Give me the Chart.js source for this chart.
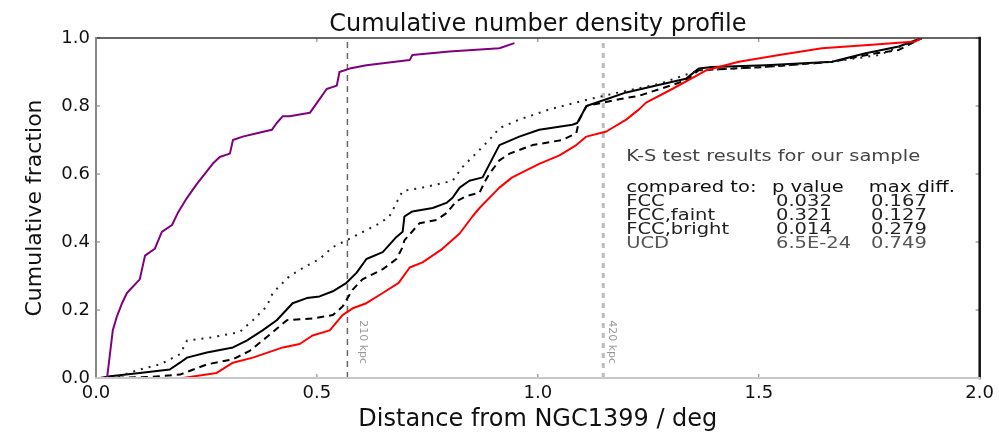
<!DOCTYPE html>
<html lang="en">
<head>
<meta charset="UTF-8">
<title>Cumulative number density profile</title>
<script src="https://cdn.jsdelivr.net/npm/chart.js"></script>
<style>
  html, body { margin: 0; padding: 0; background: #fff; }
  #wrap { width: 999px; height: 432px; }
</style>
</head>
<body>
<div id="wrap"><canvas id="cdf" width="999" height="432"></canvas></div>
<script>
// axis ticks
const xTicks = [0.0, 0.5, 1.0, 1.5, 2.0]
const yTicks = [0.0, 0.2, 0.4, 0.6, 0.8, 1.0]

// our sample (red)
const sampleX = [0.197, 0.273, 0.310, 0.355, 0.423, 0.461, 0.490, 0.529, 0.558, 0.581,
  0.612, 0.649, 0.685, 0.710, 0.739, 0.784, 0.823, 0.852, 0.868, 0.913,
  0.942, 1.003, 1.049, 1.087, 1.110, 1.155, 1.200, 1.229, 1.245, 1.304,
  1.381, 1.455, 1.546, 1.643, 1.756, 1.855, 1.869]
const sampleY = [0, 0.015, 0.045, 0.06, 0.09, 0.10, 0.125, 0.14, 0.185, 0.205,
  0.22, 0.25, 0.28, 0.325, 0.34, 0.38, 0.425, 0.475, 0.50, 0.56,
  0.59, 0.63, 0.655, 0.685, 0.71, 0.725, 0.76, 0.79, 0.81, 0.85,
  0.905, 0.93, 0.95, 0.97, 0.98, 0.99, 1.0]

// FCC (solid black)
const fccX = [0.009, 0.032, 0.099, 0.167, 0.190, 0.206, 0.251, 0.310, 0.341, 0.377,
  0.409, 0.445, 0.477, 0.506, 0.536, 0.567, 0.590, 0.612, 0.649, 0.680,
  0.694, 0.698, 0.716, 0.762, 0.793, 0.807, 0.823, 0.845, 0.875, 0.913,
  0.958, 1.003, 1.078, 1.089, 1.110, 1.155, 1.200, 1.268, 1.335, 1.364,
  1.394, 1.516, 1.666, 1.742, 1.817, 1.869]
const fccY = [0, 0.005, 0.015, 0.025, 0.045, 0.06, 0.075, 0.09, 0.11, 0.14,
  0.17, 0.22, 0.235, 0.24, 0.255, 0.28, 0.31, 0.35, 0.37, 0.415,
  0.43, 0.475, 0.49, 0.50, 0.515, 0.53, 0.56, 0.58, 0.59, 0.685,
  0.71, 0.73, 0.745, 0.75, 0.80, 0.82, 0.84, 0.86, 0.88, 0.91,
  0.915, 0.92, 0.93, 0.955, 0.975, 1.0]

// FCC, faint (dashed black)
const faintX = [0.020, 0.122, 0.190, 0.251, 0.310, 0.348, 0.386, 0.432, 0.490, 0.536,
  0.558, 0.581, 0.603, 0.649, 0.680, 0.694, 0.698, 0.732, 0.771, 0.793,
  0.816, 0.838, 0.868, 0.879, 0.890, 0.913, 0.936, 0.988, 1.055, 1.087,
  1.094, 1.110, 1.184, 1.229, 1.335, 1.364, 1.516, 1.666, 1.765, 1.817,
  1.869]
const faintY = [0, 0.003, 0.01, 0.04, 0.055, 0.08, 0.12, 0.17, 0.175, 0.185,
  0.21, 0.26, 0.29, 0.32, 0.35, 0.385, 0.405, 0.455, 0.465, 0.485,
  0.52, 0.535, 0.545, 0.575, 0.60, 0.64, 0.66, 0.685, 0.70, 0.72,
  0.76, 0.80, 0.82, 0.83, 0.875, 0.905, 0.915, 0.93, 0.955, 0.965,
  1.0]

// FCC, bright (dotted black)
const brightX = [0.032, 0.047, 0.099, 0.145, 0.190, 0.206, 0.264, 0.325, 0.355, 0.386,
  0.400, 0.438, 0.477, 0.506, 0.536, 0.567, 0.612, 0.642, 0.664, 0.694,
  0.739, 0.807, 0.829, 0.852, 0.890, 0.913, 0.958, 1.026, 1.116, 1.184,
  1.275, 1.364, 1.516, 1.666, 1.772, 1.869]
const brightY = [0, 0.003, 0.025, 0.04, 0.07, 0.11, 0.12, 0.135, 0.17, 0.21,
  0.25, 0.30, 0.33, 0.35, 0.385, 0.405, 0.435, 0.455, 0.475, 0.55,
  0.56, 0.58, 0.62, 0.65, 0.70, 0.735, 0.76, 0.79, 0.82, 0.84,
  0.865, 0.905, 0.915, 0.93, 0.95, 1.0]

// UCD (purple)
const ucdX = [0.025, 0.038, 0.047, 0.059, 0.070, 0.099, 0.111, 0.133, 0.149, 0.172,
  0.185, 0.206, 0.228, 0.264, 0.280, 0.303, 0.310, 0.332, 0.364, 0.398,
  0.409, 0.423, 0.438, 0.484, 0.506, 0.522, 0.545, 0.551, 0.574, 0.612,
  0.710, 0.716, 0.800, 0.913, 0.947]
const ucdY = [0, 0.14, 0.18, 0.22, 0.25, 0.29, 0.36, 0.38, 0.43, 0.45,
  0.485, 0.53, 0.57, 0.63, 0.65, 0.66, 0.70, 0.71, 0.72, 0.73,
  0.75, 0.77, 0.77, 0.78, 0.82, 0.85, 0.86, 0.90, 0.91, 0.92,
  0.935, 0.95, 0.96, 0.97, 0.985]

// radius markers (deg) and their labels
const markerX = [0.569, 1.148]
const markerLabels = ["210 kpc", "420 kpc"]

// K-S test table
const ksHeader = ["compared to:", "p value", "max diff."]
const ksRows = ["FCC", "FCC,faint", "FCC,bright", "UCD"]
const ksPValues = ["0.032", "0.321", "0.014", "6.5E-24"]
const ksMaxDiff = ["0.167", "0.127", "0.279", "0.749"]

const pts = (xs, ys) => xs.map((x, i) => ({ x: x, y: ys[i] }))
const FONT = "'DejaVu Sans', 'Liberation Sans', sans-serif"

// draws stretched text like the original figure
function stretchText(ctx, text, x, y, size, color, sx) {
  ctx.save()
  ctx.font = size + "px " + FONT
  ctx.fillStyle = color
  ctx.textAlign = "left"
  ctx.textBaseline = "alphabetic"
  ctx.translate(x, y)
  ctx.scale(sx, 1)
  ctx.fillText(text, 0, 0)
  ctx.restore()
}

const framePlugin = {
  id: "frame",
  afterDatasetsDraw(chart) {
    const { ctx, chartArea: a, scales } = chart
    const xs = scales.x, ys = scales.y
    ctx.save()
    // inward tick marks
    ctx.lineWidth = 1
    ctx.strokeStyle = "#777"
    xTicks.forEach((v) => {
      const px = xs.getPixelForValue(v)
      ctx.beginPath()
      ctx.moveTo(px, a.bottom); ctx.lineTo(px, a.bottom - 4)
      ctx.moveTo(px, a.top); ctx.lineTo(px, a.top + 4)
      ctx.stroke()
    })
    yTicks.forEach((v) => {
      const py = ys.getPixelForValue(v)
      ctx.beginPath()
      ctx.moveTo(a.left, py); ctx.lineTo(a.left + 4, py)
      ctx.moveTo(a.right, py); ctx.lineTo(a.right - 4, py)
      ctx.stroke()
    })
    // frame, sides drawn as in the scan
    ctx.lineCap = "square"
    ctx.strokeStyle = "#333"; ctx.lineWidth = 1.5
    ctx.beginPath(); ctx.moveTo(a.left, a.top); ctx.lineTo(a.right, a.top); ctx.stroke()
    ctx.strokeStyle = "#111"; ctx.lineWidth = 2.5
    ctx.beginPath(); ctx.moveTo(a.right, a.top); ctx.lineTo(a.right, a.bottom); ctx.stroke()
    ctx.strokeStyle = "#888"; ctx.lineWidth = 2
    ctx.beginPath(); ctx.moveTo(a.left, a.top); ctx.lineTo(a.left, a.bottom); ctx.stroke()
    ctx.strokeStyle = "#c8c8c8"; ctx.lineWidth = 2
    ctx.beginPath(); ctx.moveTo(a.left, a.bottom); ctx.lineTo(a.right, a.bottom); ctx.stroke()
    ctx.restore()
  },
  afterDraw(chart) {
    const { ctx, scales } = chart
    const xs = scales.x, ys = scales.y
    // rotated marker labels
    const labelX = [0.603, 1.168]
    markerLabels.forEach((t, i) => {
      ctx.save()
      ctx.translate(xs.getPixelForValue(labelX[i]), ys.getPixelForValue(0.17))
      ctx.rotate(Math.PI / 2)
      ctx.font = "11px " + FONT
      ctx.fillStyle = "#999"
      ctx.textAlign = "left"
      ctx.textBaseline = "middle"
      ctx.fillText(t, 0, 0)
      ctx.restore()
    })
    // K-S table
    const sx = 1.3
    const col0 = xs.getPixelForValue(1.200)
    const col1 = xs.getPixelForValue(1.539)
    const col2 = xs.getPixelForValue(1.754)
    stretchText(ctx, "K-S test results for our sample", col0, ys.getPixelForValue(0.638), 15, "#444", sx)
    const headY = ys.getPixelForValue(0.547)
    stretchText(ctx, ksHeader[0], col0, headY, 15, "#111", sx)
    stretchText(ctx, ksHeader[1], xs.getPixelForValue(1.530), headY, 15, "#111", sx)
    stretchText(ctx, ksHeader[2], xs.getPixelForValue(1.749), headY, 15, "#111", sx)
    const rowY = [0.506, 0.465, 0.424, 0.382]
    ksRows.forEach((r, i) => {
      const y = ys.getPixelForValue(rowY[i])
      const c = i === 3 ? "#555" : "#222"
      stretchText(ctx, r, col0, y, 15, c, sx)
      stretchText(ctx, ksPValues[i], col1, y, 15, c, sx)
      stretchText(ctx, ksMaxDiff[i], col2, y, 15, c, sx)
    })
  },
}

const lineStyle = { pointRadius: 0, tension: 0, fill: false, borderJoinStyle: "round" }

const chart = new Chart(document.getElementById("cdf"), {
  type: "line",
  data: {
    datasets: [
      { ...lineStyle, label: "UCD", data: pts(ucdX, ucdY), borderColor: "#800080", borderWidth: 2 },
      { ...lineStyle, label: "our sample", data: pts(sampleX, sampleY), borderColor: "#ff0000", borderWidth: 2 },
      { ...lineStyle, label: "FCC,bright", data: pts(brightX, brightY), borderColor: "#222", borderWidth: 2, borderDash: [2, 6] },
      { ...lineStyle, label: "FCC,faint", data: pts(faintX, faintY), borderColor: "#000", borderWidth: 2, borderDash: [7, 5] },
      { ...lineStyle, label: "FCC", data: pts(fccX, fccY), borderColor: "#000", borderWidth: 2 },
      { ...lineStyle, label: "210 kpc", data: pts([markerX[0], markerX[0]], [0, 1]), borderColor: "#666", borderWidth: 1.5, borderDash: [6, 5] },
      { ...lineStyle, label: "420 kpc", data: pts([markerX[1], markerX[1]], [0, 1]), borderColor: "#bbb", borderWidth: 3, borderDash: [5, 5] },
    ],
  },
  options: {
    responsive: false,
    animation: false,
    layout: { padding: { left: 0, right: 17, top: 0, bottom: 0 } },
    plugins: {
      legend: { display: false },
      tooltip: { enabled: false },
      title: {
        display: true,
        fullSize: false,
        text: "Cumulative number density profile",
        color: "#111",
        font: { family: FONT, size: 24, weight: "normal", lineHeight: 1 },
        padding: { top: 13, bottom: 1 },
      },
    },
    scales: {
      x: {
        type: "linear",
        min: 0,
        max: 2,
        afterFit: (s) => { s.height = 54 },
        afterBuildTicks: (s) => { s.ticks = xTicks.map((v) => ({ value: v })) },
        grid: { display: false, drawTicks: false },
        border: { display: false },
        ticks: {
          padding: 5,
          color: "#111",
          font: { family: FONT, size: 18 },
          maxRotation: 0,
          callback: (v) => v.toFixed(1),
        },
        title: {
          display: true,
          text: "Distance from NGC1399 / deg",
          color: "#111",
          font: { family: FONT, size: 24, lineHeight: 1 },
          padding: { top: 0, bottom: 0 },
        },
      },
      y: {
        type: "linear",
        min: 0,
        max: 1,
        afterFit: (s) => { s.width = 96 },
        afterBuildTicks: (s) => { s.ticks = yTicks.map((v) => ({ value: v })) },
        grid: { display: false, drawTicks: false },
        border: { display: false },
        ticks: {
          padding: 6,
          color: "#111",
          font: { family: FONT, size: 18 },
          callback: (v) => v.toFixed(1),
        },
        title: {
          display: true,
          text: "Cumulative fraction",
          color: "#111",
          font: { family: FONT, size: 22, lineHeight: 1 },
          padding: { top: 24, bottom: 0 },
        },
      },
    },
  },
  plugins: [framePlugin],
})
</script>
</body>
</html>
